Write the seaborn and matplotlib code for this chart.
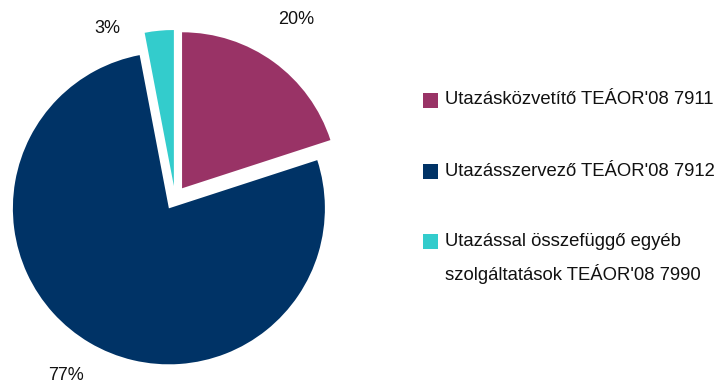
import matplotlib
matplotlib.use("Agg")
import matplotlib.pyplot as plt
from matplotlib.patches import Rectangle
import seaborn as sns

# Share of enterprises by activity (TEÁOR'08)
categories = [
    "Utazásközvetítő TEÁOR'08 7911",
    "Utazásszervező TEÁOR'08 7912",
    "Utazással összefüggő egyéb\nszolgáltatások TEÁOR'08 7990",
]
shares = [20, 77, 3]
colors = ["#993366", "#003366", "#33CCCC"]

sns.set_theme(style="white")
plt.rcParams["font.family"] = ["Liberation Sans", "DejaVu Sans"]

W, H = 723, 383
fig = plt.figure(figsize=(W / 100, H / 100), dpi=100)
fig.patch.set_facecolor("white")

# pie axes: radius 1 = 156 px, centred at (175, 198) px from the top-left
R = 156.0
cx, cy = 175.0, H - 198.0
lim = 1.1
side = 2 * lim * R
ax = fig.add_axes([(cx - side / 2) / W, (cy - side / 2) / H, side / W, side / H])

wedges, texts, autotexts = ax.pie(
    shares,
    colors=colors,
    startangle=90,
    counterclock=False,
    explode=[0.077] * len(shares),
    autopct="%.0f%%",
    pctdistance=1.28,
    textprops=dict(fontsize=13, color="#111111"),
    wedgeprops=dict(linewidth=0),
)
ax.set_xlim(-lim, lim)
ax.set_ylim(-lim, lim)
ax.set_aspect("equal")
ax.axis("off")

# percentage label placement (data units)
label_pos = [(0.78, 1.145), (-0.70, -1.14), (-0.435, 1.085)]
for t, p in zip(autotexts, label_pos):
    t.set_position(p)
    t.set_ha("center")
    t.set_va("center")
    t.set_clip_on(False)

# legend built from the wedge colours
def px(x, y_top):
    return x / W, (H - y_top) / H

sq = 15
item_y = [100, 172, 241]
line_gap = 33
for w, label, y in zip(wedges, categories, item_y):
    x0, y0 = px(423, y + sq / 2)
    fig.add_artist(Rectangle((x0, y0), sq / W, sq / H, transform=fig.transFigure,
                             facecolor=w.get_facecolor(), edgecolor="none"))
    for i, line in enumerate(label.split("\n")):
        tx, ty = px(445, y + i * line_gap)
        fig.text(tx, ty, line, ha="left", va="center", fontsize=13.3, color="#111111")

fig.savefig("out.png", dpi=100, facecolor="white")
